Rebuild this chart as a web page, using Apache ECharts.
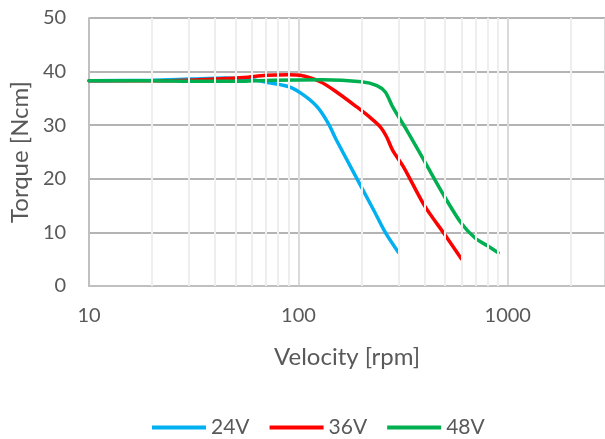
<!DOCTYPE html>
<html>
<head>
<meta charset="utf-8">
<script src="https://cdn.jsdelivr.net/npm/echarts@6/dist/echarts.min.js"></script>
<style>
html,body{margin:0;padding:0;background:#fff;}
#c{width:605px;height:439px;}
</style>
</head>
<body>
<div id="c"></div>
<script>
// Data
const seriesNames = ['24V', '36V', '48V'];
const v24 = [10, 20, 30, 45, 60, 73, 91, 106, 123, 139, 152, 230, 260, 300];
const t24 = [38.3, 38.4, 38.6, 38.8, 38.5, 37.9, 37.1, 35.6, 33.4, 30.3, 27.2, 14.0, 10.0, 6.3];
const v36 = [10, 20, 30, 40, 55, 70, 90, 102, 127, 152, 190, 219, 246, 264, 282, 318, 400, 500, 600];
const t36 = [38.3, 38.3, 38.4, 38.6, 38.9, 39.3, 39.4, 39.3, 38.1, 36.2, 33.4, 31.5, 29.7, 27.8, 25.3, 22.2, 15.0, 9.6, 5.1];
const v48 = [10, 20, 30, 50, 75, 130, 200, 237, 260, 282, 330, 400, 441, 500, 600, 700, 800, 900];
const t48 = [38.3, 38.3, 38.2, 38.2, 38.4, 38.5, 38.1, 37.4, 36.2, 33.4, 29.0, 23.3, 20.3, 16.6, 11.7, 8.9, 7.5, 6.2];
const xMajorLabels = [10, 100, 1000];
const xMinorGrid = [20, 30, 40, 50, 60, 70, 80, 90, 200, 300, 400, 500, 600, 700, 800, 900, 2000];
const yTicks = [0, 10, 20, 30, 40, 50];

const colors = ['#00B0F0', '#FF0000', '#00B050'];
const font = 'Lato, "Open Sans", sans-serif';
const textColor = '#595959';

function pairs(xs, ys) { return xs.map((x, i) => [x, ys[i]]); }

const chart = echarts.init(document.getElementById('c'), null, {renderer: 'canvas'});
const lineSeries = [[v24, t24], [v36, t36], [v48, t48]].map((d, i) => ({
  name: seriesNames[i],
  type: 'line',
  data: pairs(d[0], d[1]),
  smooth: 0.3,
  symbol: 'none',
  showSymbol: false,
  z: 3,
  lineStyle: {color: colors[i], width: 3.5, cap: 'round'},
  itemStyle: {color: colors[i]}
}));

chart.setOption({
  animation: false,
  backgroundColor: '#fff',
  grid: {left: 89, right: 0, top: 18, bottom: 153, containLabel: false},
  legend: {
    data: seriesNames,
    top: 412,
    left: 147,
    icon: 'rect',
    itemWidth: 54,
    itemHeight: 4,
    itemGap: 20,
    textStyle: {fontFamily: font, fontSize: 21, color: textColor}
  },
  xAxis: {
    type: 'log',
    logBase: 10,
    min: 10,
    max: 2914,
    name: 'Velocity [rpm]',
    nameLocation: 'middle',
    nameGap: 59,
    nameTextStyle: {fontFamily: font, fontSize: 24, color: textColor},
    axisLine: {show: true, lineStyle: {color: '#c0c0c0', width: 2}},
    axisTick: {show: false},
    axisLabel: {
      fontFamily: font, fontSize: 20, color: textColor, margin: 20,
      showMaxLabel: false,
      formatter: v => (xMajorLabels.indexOf(Math.round(v)) >= 0 ? String(Math.round(v)) : '')
    },
    splitLine: {show: true, lineStyle: {color: '#dadada', width: 2}}
  },
  yAxis: {
    type: 'value',
    min: yTicks[0],
    max: yTicks[yTicks.length - 1],
    interval: 10,
    name: 'Torque [Ncm]',
    nameLocation: 'middle',
    nameGap: 57,
    nameTextStyle: {fontFamily: font, fontSize: 24, color: textColor},
    axisLine: {show: true, lineStyle: {color: '#c0c0c0', width: 2}},
    axisTick: {show: false},
    axisLabel: {fontFamily: font, fontSize: 20, color: textColor, margin: 23},
    splitLine: {show: true, lineStyle: {color: '#b4b4b4', width: 2}}
  },
  series: [{
    name: 'minorGrid',
    type: 'line',
    data: [],
    z: 1,
    silent: true,
    markLine: {
      silent: true,
      symbol: ['none', 'none'],
      label: {show: false},
      animation: false,
      lineStyle: {color: '#eeeeee', width: 2, type: 'solid'},
      data: xMinorGrid.map(v => ({xAxis: v}))
    }
  }].concat(lineSeries)
});
</script>
</body>
</html>
